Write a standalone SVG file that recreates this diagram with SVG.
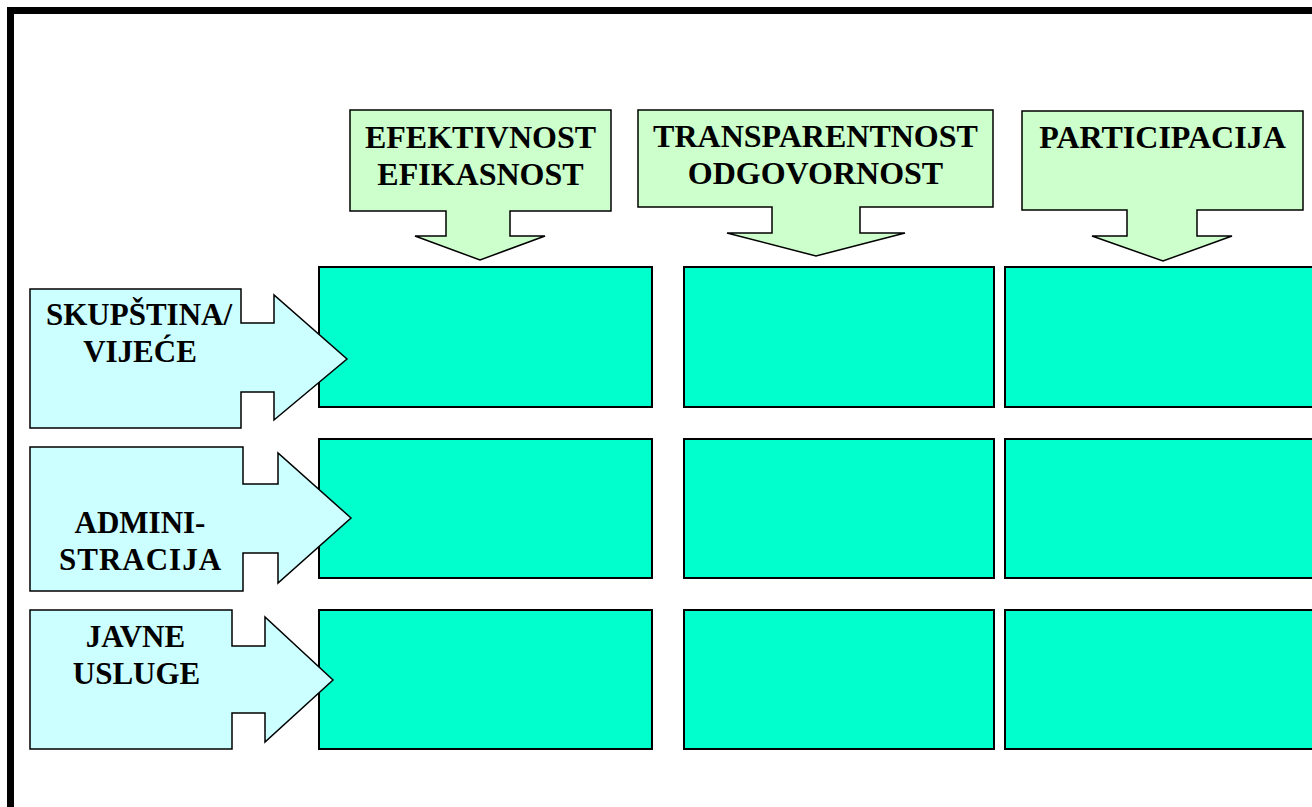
<svg xmlns="http://www.w3.org/2000/svg" width="1312" height="807" viewBox="0 0 1312 807">
  <style>
    .frame { fill: #ffffff; stroke: #000000; stroke-width: 7; }
    .cell { fill: #00ffcc; stroke: #000000; stroke-width: 2; }
    .top { fill: #ccffcc; stroke: #000000; stroke-width: 1.5; stroke-linejoin: miter; }
    .side { fill: #ccffff; stroke: #000000; stroke-width: 1.5; stroke-linejoin: miter; }
    .lbl { font-family: "Liberation Serif", "Times New Roman", serif; font-weight: bold; font-size: 32px; fill: #000000; text-anchor: middle; }
    .slbl { font-family: "Liberation Serif", "Times New Roman", serif; font-weight: bold; font-size: 31px; fill: #000000; text-anchor: middle; }
  </style>

  <!-- page frame -->
  <rect class="frame" x="10.5" y="10.5" width="1310" height="800"/>

  <!-- grid of cells -->
  <g id="cells">
    <rect class="cell" x="319" y="267" width="333" height="140"/>
    <rect class="cell" x="684" y="267" width="310" height="140"/>
    <rect class="cell" x="1005" y="267" width="315" height="140"/>
    <rect class="cell" x="319" y="439" width="333" height="139"/>
    <rect class="cell" x="684" y="439" width="310" height="139"/>
    <rect class="cell" x="1005" y="439" width="315" height="139"/>
    <rect class="cell" x="319" y="610" width="333" height="139"/>
    <rect class="cell" x="684" y="610" width="310" height="139"/>
    <rect class="cell" x="1005" y="610" width="315" height="139"/>
  </g>

  <g id="connectors"/>

  <!-- column headers (down-arrow callouts) -->
  <g id="col-efektivnost">
    <path class="top" d="M350,110 H611 V211 H510 V236 H545 L480,260 L415,236 H446 V211 H350 Z"/>
    <text class="lbl" x="480.5" y="148">EFEKTIVNOST</text>
    <text class="lbl" x="480.5" y="185">EFIKASNOST</text>
  </g>
  <g id="col-transparentnost">
    <path class="top" d="M638,110 H993 V207 H860 V233 H905 L816,256 L727,233 H772 V207 H638 Z"/>
    <text class="lbl" x="815.5" y="147">TRANSPARENTNOST</text>
    <text class="lbl" x="815.5" y="184">ODGOVORNOST</text>
  </g>
  <g id="col-participacija">
    <path class="top" d="M1022,111 H1303 V210 H1197 V236 H1232 L1163,261 L1092,236 H1127 V210 H1022 Z"/>
    <text class="lbl" x="1162.5" y="148">PARTICIPACIJA</text>
  </g>

  <!-- row headers (right-arrow callouts) -->
  <g id="row-skupstina">
    <path class="side" d="M30,289 H241 V323 H274 V295 L347,359 L274,420 V392 H241 V428 H30 Z"/>
    <text class="slbl" x="139" y="325">SKUPŠTINA/</text>
    <text class="slbl" x="140" y="362">VIJEĆE</text>
  </g>
  <g id="row-administracija">
    <path class="side" d="M30,447 H243 V484 H278 V453 L351,518 L278,583 V553 H243 V591 H30 Z"/>
    <text class="slbl" x="140" y="533">ADMINI-</text>
    <text class="slbl" x="140.5" y="570" letter-spacing="1">STRACIJA</text>
  </g>
  <g id="row-javne-usluge">
    <path class="side" d="M30,610 H232 V646 H265 V617 L333,680 L265,742 V713 H232 V749 H30 Z"/>
    <text class="slbl" x="135.5" y="647">JAVNE</text>
    <text class="slbl" x="136.5" y="684">USLUGE</text>
  </g>
</svg>
